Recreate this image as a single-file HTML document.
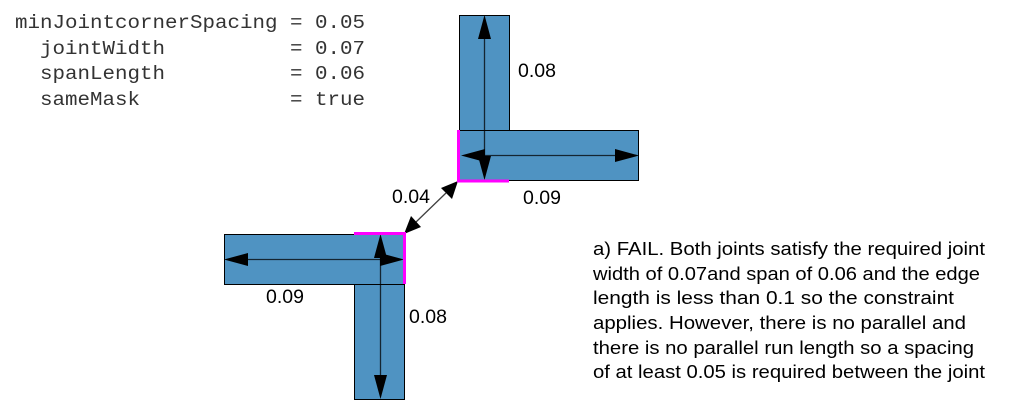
<!DOCTYPE html>
<html><head><meta charset="utf-8"><style>
html,body{margin:0;padding:0;background:#fff;}
svg{display:block;}
.m{font-family:"Liberation Mono",monospace;font-size:19px;fill:#333;}
.s{font-family:"Liberation Sans",sans-serif;font-size:18.5px;fill:#000;}
.l{font-family:"Liberation Sans",sans-serif;font-size:19.5px;fill:#000;}
</style></head><body>
<svg width="1013" height="420" viewBox="0 0 1013 420" xmlns="http://www.w3.org/2000/svg">
<g fill="#4f93c2" stroke="#000" stroke-width="1">
<rect x="459.5" y="15.5" width="50" height="115"/>
<rect x="459.5" y="130.5" width="179" height="50"/>
<rect x="224.5" y="234.5" width="180" height="50"/>
<rect x="354.5" y="284.5" width="50" height="115"/>
</g>
<g stroke="#000" stroke-width="1.3" stroke-opacity="0.75">
<line x1="484.5" y1="30" x2="484.5" y2="165"/>
<line x1="476" y1="155.5" x2="624" y2="155.5"/>
<line x1="240" y1="259.5" x2="390" y2="259.5"/>
<line x1="380.5" y1="248" x2="380.5" y2="385"/>
<line x1="446" y1="193" x2="416" y2="222"/>
</g>
<g fill="#000">
<polygon points="484.5,15 478,39 491,39"/>
<polygon points="484.5,180 478,156 491,156"/>
<polygon points="461,155.5 485,149 485,162"/>
<polygon points="639,155.5 615,149 615,162"/>
<polygon points="224,259.5 248,253 248,266"/>
<polygon points="404,259.5 380,253 380,266"/>
<polygon points="380.5,234 374,258 387,258"/>
<polygon points="380.5,399 374,375 387,375"/>
<polygon points="458,181 452,199 441,188"/>
<polygon points="404,234 411,216 421,227"/>
</g>
<g stroke="#ff00ff" stroke-width="3" fill="none">
<polyline points="458.5,130 458.5,181 509,181"/>
<polyline points="354,233.5 404.5,233.5 404.5,284"/>
</g>
<g class="m">
<text x="15" y="28" textLength="350" lengthAdjust="spacingAndGlyphs" xml:space="preserve">minJointcornerSpacing = 0.05</text>
<text x="15" y="54" textLength="350" lengthAdjust="spacingAndGlyphs" xml:space="preserve">  jointWidth          = 0.07</text>
<text x="15" y="79" textLength="350" lengthAdjust="spacingAndGlyphs" xml:space="preserve">  spanLength          = 0.06</text>
<text x="15" y="105" textLength="350" lengthAdjust="spacingAndGlyphs" xml:space="preserve">  sameMask            = true</text>
</g>
<g class="l">
<text x="518" y="77">0.08</text>
<text x="523" y="204">0.09</text>
<text x="392" y="203">0.04</text>
<text x="266" y="303">0.09</text>
<text x="409" y="323">0.08</text>
</g>
<g class="s">
<text x="593" y="255" textLength="392" lengthAdjust="spacingAndGlyphs">a) FAIL. Both joints satisfy the required joint</text>
<text x="593" y="280" textLength="387" lengthAdjust="spacingAndGlyphs">width of 0.07and span of 0.06 and the edge</text>
<text x="593" y="304" textLength="361" lengthAdjust="spacingAndGlyphs">length is less than 0.1 so the constraint</text>
<text x="593" y="329" textLength="373" lengthAdjust="spacingAndGlyphs">applies. However, there is no parallel and</text>
<text x="593" y="354" textLength="381" lengthAdjust="spacingAndGlyphs">there is no parallel run length so a spacing</text>
<text x="593" y="378" textLength="392" lengthAdjust="spacingAndGlyphs">of at least 0.05 is required between the joint</text>
</g>
</svg>
</body></html>
